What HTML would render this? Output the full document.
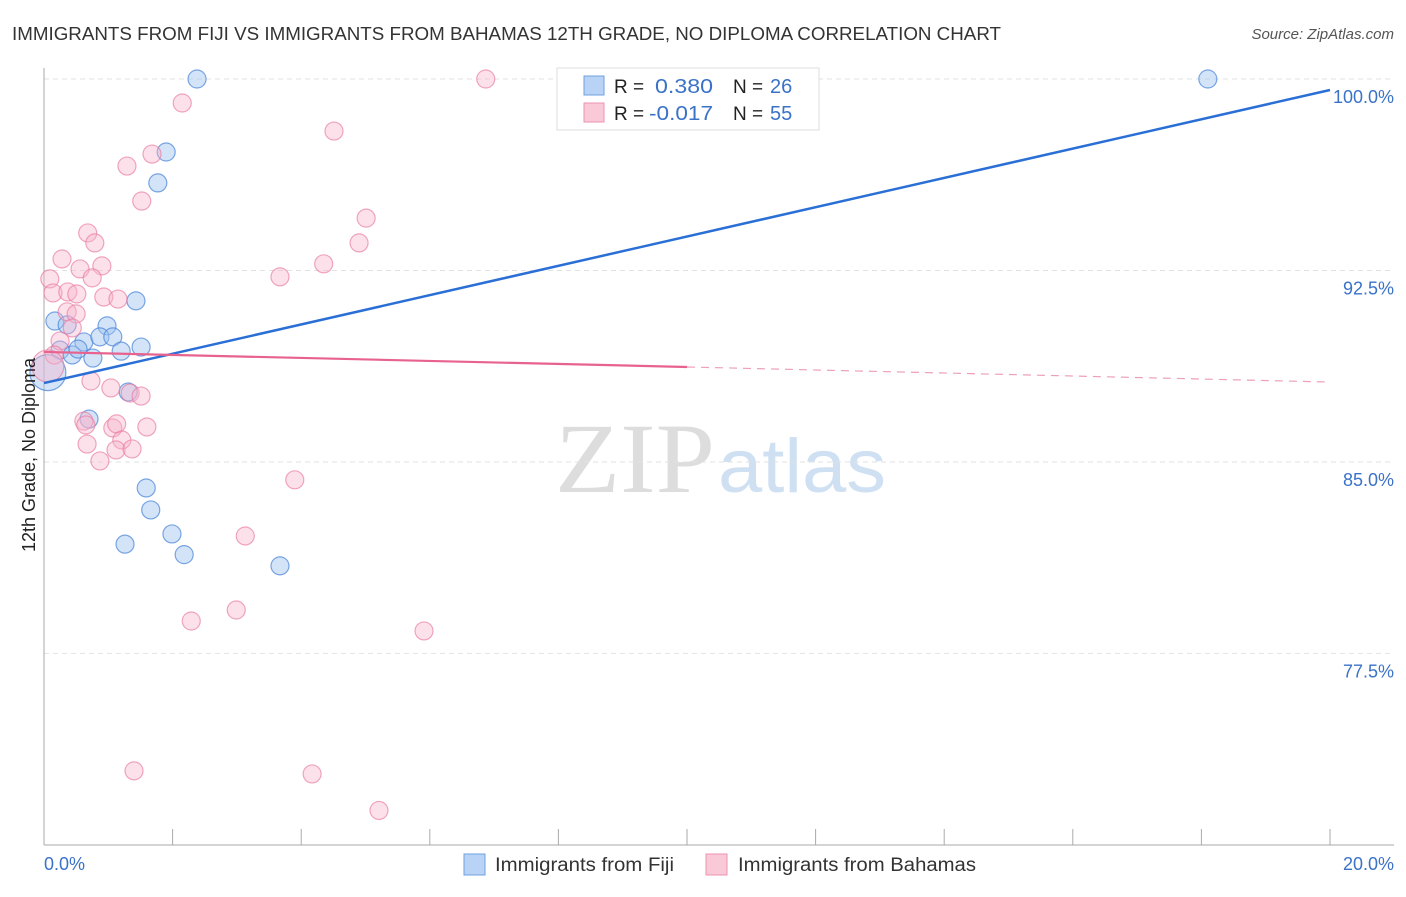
<!DOCTYPE html>
<html><head><meta charset="utf-8"><style>
body{margin:0;background:#fff;font-family:"Liberation Sans",sans-serif}
</style></head><body>
<svg id="chart" width="1406" height="892" xmlns="http://www.w3.org/2000/svg" style="font-family:'Liberation Sans',sans-serif">
<text x="12" y="40" font-size="18" fill="#333" textLength="989" lengthAdjust="spacingAndGlyphs">IMMIGRANTS FROM FIJI VS IMMIGRANTS FROM BAHAMAS 12TH GRADE, NO DIPLOMA CORRELATION CHART</text>
<text x="1394" y="39" font-size="15" fill="#555" font-style="italic" text-anchor="end">Source: ZipAtlas.com</text>
<text x="555" y="492" font-size="100" fill="#ddd" font-family="Liberation Serif,serif" textLength="160" lengthAdjust="spacingAndGlyphs">ZIP</text>
<text x="718" y="492" font-size="76" fill="#cfe0f3" textLength="168" lengthAdjust="spacingAndGlyphs">atlas</text>
<g id="grid"></g><g id="axes"></g><g id="pts"></g><g id="trend"></g>
<text transform="translate(35,455) rotate(-90)" font-size="18" fill="#222" text-anchor="middle">12th Grade, No Diploma</text>
<text x="44" y="870" font-size="18" fill="#3a72c8">0.0%</text>
<text x="1394" y="870" font-size="18" fill="#3a72c8" text-anchor="end">20.0%</text>
<g>
<rect x="557" y="68" width="262" height="62" fill="#fff" stroke="#ddd"/>
<rect x="584" y="76" width="20" height="19" fill="#b8d3f5" stroke="#6fa0e0"/>
<rect x="584" y="103" width="20" height="19" fill="#fac9d8" stroke="#ee93b0"/>
<text x="614" y="93" font-size="19" fill="#222">R =</text>
<text x="655" y="93" font-size="20" fill="#3a72c8" textLength="58" lengthAdjust="spacingAndGlyphs">0.380</text>
<text x="733" y="93" font-size="19" fill="#222">N =</text>
<text x="770" y="93" font-size="20" fill="#3a72c8">26</text>
<text x="614" y="120" font-size="19" fill="#222">R =</text>
<text x="649" y="120" font-size="20" fill="#3a72c8" textLength="64" lengthAdjust="spacingAndGlyphs">-0.017</text>
<text x="733" y="120" font-size="19" fill="#222">N =</text>
<text x="770" y="120" font-size="20" fill="#3a72c8">55</text>
</g>
<g>
<rect x="464" y="854" width="21" height="21" fill="#b8d3f5" stroke="#6fa0e0"/>
<text x="495" y="871" font-size="19" fill="#333" textLength="179" lengthAdjust="spacingAndGlyphs">Immigrants from Fiji</text>
<rect x="706" y="854" width="21" height="21" fill="#fac9d8" stroke="#ee93b0"/>
<text x="738" y="871" font-size="19" fill="#333" textLength="238" lengthAdjust="spacingAndGlyphs">Immigrants from Bahamas</text>
</g>
</svg>
<script>
const yTicks=[100,92.5,85,77.5];
const yTickLabels=["100.0%","92.5%","85.0%","77.5%"];
const xTicks=[0,2,4,6,8,10,12,14,16,18,20];
const fijiX=[2.38,18.1,1.9,1.77,1.43,0.98,0.17,0.36,0.62,0.87,1.07,1.51,0.25,0.44,0.53,0.76,1.2,1.31,0.7,1.59,1.66,1.99,1.26,2.18,3.67,0.06];
const fijiY=[100,100,97.14,95.93,91.31,90.33,90.52,90.37,89.7,89.9,89.9,89.5,89.38,89.19,89.42,89.07,89.34,87.74,86.68,83.98,83.12,82.18,81.78,81.37,80.93,88.5];
const bahX=[6.87,2.15,4.51,1.29,1.68,1.52,5.01,0.68,0.79,4.9,0.28,0.09,0.56,0.9,0.75,3.67,4.35,0.14,0.37,0.51,0.93,1.15,0.36,0.5,0.44,0.25,0.16,0.06,0.73,1.04,1.34,1.51,0.62,0.65,1.07,1.13,1.6,1.21,0.67,1.12,1.37,0.87,3.9,3.13,2.99,2.29,5.91,1.4,4.17,5.21,8.83];
const bahY=[100,99.06,97.96,96.59,97.06,95.22,94.55,93.97,93.58,93.58,92.95,92.17,92.56,92.68,92.21,92.25,92.76,91.62,91.66,91.58,91.46,91.38,90.88,90.8,90.25,89.74,89.19,88.76,88.17,87.9,87.7,87.58,86.6,86.45,86.33,86.49,86.37,85.86,85.7,85.47,85.51,85.04,84.3,82.1,79.2,78.77,78.38,72.9,72.78,71.35,100];
const fijiTrend=[88.09,99.57];
const bahTrend=[89.31,88.13];
const X=v=>44+v/20*1286, Y=v=>79+(100-v)*25.53;
const NS="http://www.w3.org/2000/svg";
function mk(t,a,p){const e=document.createElementNS(NS,t);for(const k in a)e.setAttribute(k,a[k]);document.getElementById(p).appendChild(e);return e;}
yTicks.forEach((t,i)=>{
 const g=mk('line',{x1:44,x2:1394,y1:Y(t),y2:Y(t),stroke:'#e2e2e2','stroke-dasharray':'5,4'},'grid');
 
 
 const l=mk('text',{x:1394,y:Y(t)+24,'font-size':18,fill:'#3a72c8','text-anchor':'end'},'axes');
 l.textContent=yTickLabels[i];
 
 
});
const ya=mk('line',{x1:44,x2:44,y1:68,y2:845,stroke:'#aaa'},'axes');


const xa=mk('line',{x1:44,x2:1394,y1:845,y2:845,stroke:'#aaa'},'axes');


xTicks.forEach(t=>{const k=mk('line',{x1:X(t),x2:X(t),y1:829,y2:845,stroke:'#aaa'},'axes');
 
 });
fijiX.forEach((x,i)=>{const big=i===fijiX.length-1;
 const c=mk('circle',{cx:X(x),cy:Y(fijiY[i]),r:big?18:9,fill:'rgba(160,195,240,0.45)',stroke:'rgba(70,130,215,0.7)','stroke-width':1.2},'pts');
 
 });
bahX.forEach((x,i)=>{const big=i===27;
 const c=mk('circle',{cx:X(x),cy:Y(bahY[i]),r:big?16:9,fill:'rgba(248,180,202,0.4)',stroke:'rgba(232,120,160,0.65)','stroke-width':1.2},'pts');
 
 });
const ft=mk('line',{x1:X(0),y1:Y(fijiTrend[0]),x2:X(20),y2:Y(fijiTrend[1]),stroke:'#2a6fd6','stroke-width':2.5},'trend');


const mid=bahTrend[0]+(bahTrend[1]-bahTrend[0])*0.5;
const bt=mk('line',{x1:X(0),y1:Y(bahTrend[0]),x2:X(10),y2:Y(mid),stroke:'#e8628f','stroke-width':2.2},'trend');


const bd=mk('line',{x1:X(10),y1:Y(mid),x2:X(20),y2:Y(bahTrend[1]),stroke:'#eda0ba','stroke-width':1.2,'stroke-dasharray':'8,6'},'trend');


</script>
</body></html>
